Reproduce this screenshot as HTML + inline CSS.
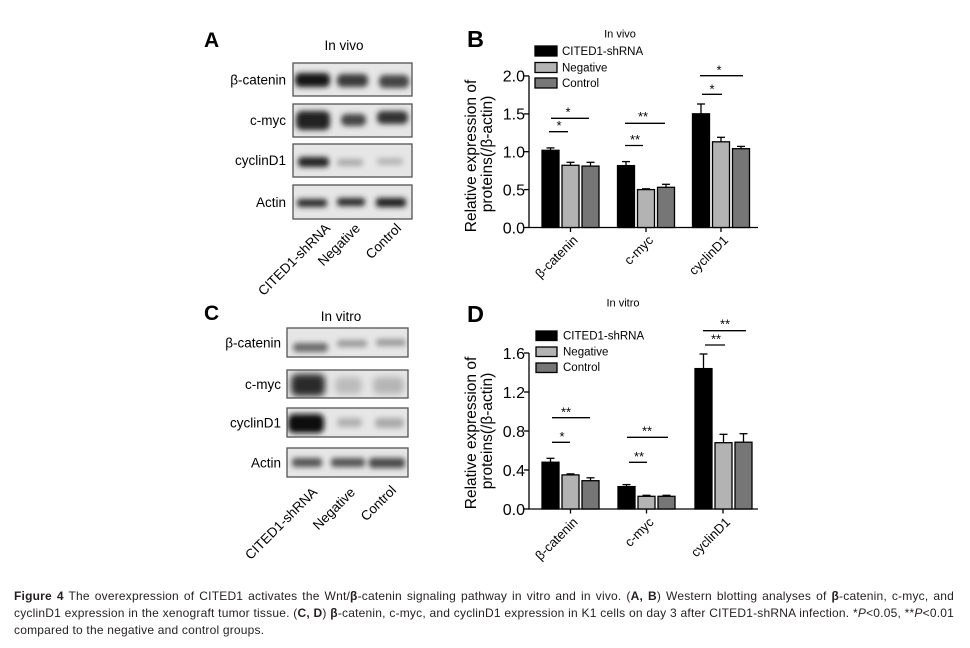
<!DOCTYPE html>
<html><head><meta charset="utf-8">
<style>
html,body{margin:0;padding:0;background:#fff;}
body{width:970px;height:648px;position:relative;overflow:hidden;font-family:"Liberation Sans",Arial,sans-serif;}
svg{position:absolute;left:0;top:0;}
.cap{position:absolute;left:14px;width:940px;font-size:12px;letter-spacing:0.2px;line-height:16.5px;height:16.5px;color:#231f20;text-align:justify;text-align-last:justify;white-space:nowrap;}
.cap.l3{text-align:left;text-align-last:left;}
</style></head><body>
<svg width="970" height="648" viewBox="0 0 970 648" xmlns="http://www.w3.org/2000/svg" font-family="Liberation Sans, Arial, sans-serif">
<defs>
<filter id="b" x="-50%" y="-150%" width="200%" height="400%"><feGaussianBlur stdDeviation="2.6"/></filter>
<filter id="b2" x="-50%" y="-150%" width="200%" height="400%"><feGaussianBlur stdDeviation="3.4"/></filter>
<clipPath id="ca1"><rect x="293" y="63" width="119" height="33"/></clipPath>
<clipPath id="ca2"><rect x="293" y="104" width="119" height="33"/></clipPath>
<clipPath id="ca3"><rect x="293" y="144" width="119" height="33"/></clipPath>
<clipPath id="ca4"><rect x="293" y="185" width="119" height="34"/></clipPath>
<clipPath id="cc1"><rect x="287" y="328" width="121" height="29"/></clipPath>
<clipPath id="cc2"><rect x="287" y="370" width="121" height="28"/></clipPath>
<clipPath id="cc3"><rect x="287" y="408" width="121" height="29"/></clipPath>
<clipPath id="cc4"><rect x="287" y="448" width="121" height="29"/></clipPath>
</defs>

<!-- Panel letters -->
<text x="204" y="47" font-size="21" font-weight="bold">A</text>
<text x="467" y="47" font-size="23.5" font-weight="bold">B</text>
<text x="204" y="320" font-size="21" font-weight="bold">C</text>
<text x="467" y="322" font-size="23.5" font-weight="bold">D</text>

<!-- ===== Panel A blots ===== -->
<text x="344" y="50" font-size="13.5" text-anchor="middle">In vivo</text>
<g font-size="13.5" text-anchor="end">
<text x="286" y="84.5">β-catenin</text>
<text x="286" y="125">c-myc</text>
<text x="286" y="165">cyclinD1</text>
<text x="286" y="207">Actin</text>
</g>
<g fill="#e6e6e6" stroke="#5a5a5a" stroke-width="1.2">
<rect x="293" y="63" width="119" height="33"/>
<rect x="293" y="104" width="119" height="33"/>
<rect x="293" y="144" width="119" height="33"/>
<rect x="293" y="185" width="119" height="34"/>
</g>
<g clip-path="url(#ca1)" filter="url(#b)">
<rect x="295" y="73" width="35" height="14" rx="5" fill="#141414"/>
<rect x="337" y="74" width="31" height="13" rx="5" fill="#3a3a3a"/>
<rect x="379" y="75" width="30" height="13" rx="5" fill="#444"/>
</g>
<g clip-path="url(#ca2)" filter="url(#b)">
<rect x="296" y="111" width="34" height="19" rx="6" fill="#222"/>
<rect x="341" y="114" width="25" height="12" rx="5" fill="#444"/>
<rect x="377" y="111" width="31" height="13" rx="5" fill="#333"/>
</g>
<g clip-path="url(#ca3)" filter="url(#b)">
<rect x="298" y="157" width="31" height="10" rx="4" fill="#222"/>
<rect x="337" y="159" width="26" height="7" rx="3" fill="#aaa"/>
<rect x="377" y="158" width="26" height="7" rx="3" fill="#b5b5b5"/>
</g>
<g clip-path="url(#ca4)" filter="url(#b)">
<rect x="297" y="199" width="30" height="8" rx="3" fill="#2a2a2a"/>
<rect x="337" y="198" width="28" height="8" rx="3" fill="#2a2a2a"/>
<rect x="376" y="198" width="30" height="9" rx="3" fill="#1a1a1a"/>
</g>
<g fill="none" stroke="#5a5a5a" stroke-width="1.2">
<rect x="293" y="63" width="119" height="33"/>
<rect x="293" y="104" width="119" height="33"/>
<rect x="293" y="144" width="119" height="33"/>
<rect x="293" y="185" width="119" height="34"/>
</g>
<g font-size="13.5" text-anchor="end">
<text transform="translate(331,229) rotate(-45)">CITED1-shRNA</text>
<text transform="translate(361,229) rotate(-45)">Negative</text>
<text transform="translate(402,229) rotate(-45)">Control</text>
</g>

<!-- ===== Panel C blots ===== -->
<text x="341" y="321" font-size="13.5" text-anchor="middle">In vitro</text>
<g font-size="13.5" text-anchor="end">
<text x="281" y="347.5">β-catenin</text>
<text x="281" y="389">c-myc</text>
<text x="281" y="427.5">cyclinD1</text>
<text x="281" y="467.5">Actin</text>
</g>
<g fill="#e6e6e6" stroke="#5a5a5a" stroke-width="1.2">
<rect x="287" y="328" width="121" height="29"/>
<rect x="287" y="370" width="121" height="28"/>
<rect x="287" y="408" width="121" height="29"/>
<rect x="287" y="448" width="121" height="29"/>
</g>
<g clip-path="url(#cc1)" filter="url(#b)">
<rect x="293" y="343" width="35" height="9" rx="4" fill="#6a6a6a"/>
<rect x="337" y="340" width="30" height="7" rx="3" fill="#999"/>
<rect x="376" y="339" width="30" height="7" rx="3" fill="#9a9a9a"/>
</g>
<g clip-path="url(#cc2)" filter="url(#b2)">
<rect x="291" y="374" width="34" height="22" rx="6" fill="#2a2a2a"/>
<rect x="335" y="377" width="27" height="17" rx="6" fill="#bbb"/>
<rect x="373" y="377" width="31" height="17" rx="6" fill="#b5b5b5"/>
</g>
<g clip-path="url(#cc3)" filter="url(#b)">
<rect x="288" y="414" width="36" height="19" rx="6" fill="#0a0a0a"/>
<rect x="337" y="418" width="25" height="9" rx="4" fill="#b0b0b0"/>
<rect x="375" y="418" width="29" height="10" rx="4" fill="#aaa"/>
</g>
<g clip-path="url(#cc4)" filter="url(#b)">
<rect x="292" y="458" width="30" height="9" rx="3" fill="#555"/>
<rect x="331" y="458" width="34" height="9" rx="3" fill="#555"/>
<rect x="369" y="458" width="36" height="10" rx="3" fill="#4a4a4a"/>
</g>
<g fill="none" stroke="#5a5a5a" stroke-width="1.2">
<rect x="287" y="328" width="121" height="29"/>
<rect x="287" y="370" width="121" height="28"/>
<rect x="287" y="408" width="121" height="29"/>
<rect x="287" y="448" width="121" height="29"/>
</g>
<g font-size="13.5" text-anchor="end">
<text transform="translate(318,493) rotate(-45)">CITED1-shRNA</text>
<text transform="translate(356,493) rotate(-45)">Negative</text>
<text transform="translate(397,491) rotate(-45)">Control</text>
</g>

<!-- ===== Panel B chart ===== -->
<text x="620" y="37.3" font-size="11" text-anchor="middle">In vivo</text>
<g font-size="15.5" text-anchor="middle">
<text transform="translate(476,156) rotate(-90)">Relative expression of</text>
<text transform="translate(492,154) rotate(-90)">proteins(/β-actin)</text>
</g>
<g stroke="#000" stroke-width="1.3">
<line x1="529" y1="75.9" x2="529" y2="228"/>
<line x1="528.4" y1="227.5" x2="758" y2="227.5"/>
<line x1="524" y1="75.9" x2="529" y2="75.9"/>
<line x1="524" y1="113.9" x2="529" y2="113.9"/>
<line x1="524" y1="151.7" x2="529" y2="151.7"/>
<line x1="524" y1="189.6" x2="529" y2="189.6"/>
<line x1="524" y1="227.5" x2="529" y2="227.5"/>
<line x1="570.5" y1="227.5" x2="570.5" y2="232"/>
<line x1="646" y1="227.5" x2="646" y2="232"/>
<line x1="721" y1="227.5" x2="721" y2="232"/>
</g>
<g font-size="16" text-anchor="end">
<text x="525" y="81.7">2.0</text>
<text x="525" y="119.7">1.5</text>
<text x="525" y="157.5">1.0</text>
<text x="525" y="195.4">0.5</text>
<text x="525" y="233.3">0.0</text>
</g>
<g stroke="#000" stroke-width="1.3">
<line x1="550.5" y1="227.5" x2="550.5" y2="147.9"/><line x1="546.5" y1="147.9" x2="554.5" y2="147.9"/>
<line x1="570.5" y1="227.5" x2="570.5" y2="162.3"/><line x1="566.5" y1="162.3" x2="574.5" y2="162.3"/>
<line x1="590.5" y1="227.5" x2="590.5" y2="162.3"/><line x1="586.5" y1="162.3" x2="594.5" y2="162.3"/>
<line x1="626" y1="227.5" x2="626" y2="161.6"/><line x1="622" y1="161.6" x2="630" y2="161.6"/>
<line x1="646" y1="227.5" x2="646" y2="188.8"/><line x1="642" y1="188.8" x2="650" y2="188.8"/>
<line x1="666" y1="227.5" x2="666" y2="184.3"/><line x1="662" y1="184.3" x2="670" y2="184.3"/>
<line x1="701" y1="227.5" x2="701" y2="104"/><line x1="697" y1="104" x2="705" y2="104"/>
<line x1="721" y1="227.5" x2="721" y2="137.3"/><line x1="717" y1="137.3" x2="725" y2="137.3"/>
<line x1="741" y1="227.5" x2="741" y2="146.4"/><line x1="737" y1="146.4" x2="745" y2="146.4"/>
</g>
<g stroke="#000" stroke-width="1.3">
<rect x="542" y="150.3" width="17" height="77.2" fill="#000"/>
<rect x="562" y="165.3" width="17" height="62.2" fill="#b3b3b3"/>
<rect x="582" y="166.1" width="17" height="61.4" fill="#767676"/>
<rect x="617.5" y="165.6" width="17" height="61.9" fill="#000"/>
<rect x="637.5" y="189.6" width="17" height="37.9" fill="#b3b3b3"/>
<rect x="657.5" y="187.3" width="17" height="40.2" fill="#767676"/>
<rect x="692.5" y="113.8" width="17" height="113.7" fill="#000"/>
<rect x="712.5" y="141.8" width="17" height="85.7" fill="#b3b3b3"/>
<rect x="732.5" y="148.7" width="17" height="78.8" fill="#767676"/>
</g>
<g stroke="#000" stroke-width="1.3">
<line x1="549" y1="131.7" x2="568" y2="131.7"/>
<line x1="551" y1="118.3" x2="589" y2="118.3"/>
<line x1="625" y1="145.5" x2="643" y2="145.5"/>
<line x1="625" y1="123.3" x2="665" y2="123.3"/>
<line x1="702" y1="94.3" x2="722" y2="94.3"/>
<line x1="700" y1="75.7" x2="743" y2="75.7"/>
</g>
<g font-size="13" text-anchor="middle">
<text x="559" y="130.2">*</text>
<text x="568" y="116.3">*</text>
<text x="635" y="144">**</text>
<text x="643" y="121">**</text>
<text x="712" y="93.5">*</text>
<text x="719" y="74.5">*</text>
</g>
<g stroke="#000" stroke-width="1.3">
<rect x="535" y="46" width="22" height="10" fill="#000"/>
<rect x="535" y="62.5" width="22" height="10" fill="#b3b3b3"/>
<rect x="535" y="78" width="22" height="10" fill="#767676"/>
</g>
<g font-size="11.5">
<text x="562" y="55">CITED1-shRNA</text>
<text x="562" y="71.5">Negative</text>
<text x="562" y="87">Control</text>
</g>
<g font-size="13" text-anchor="end">
<text transform="translate(578.5,241) rotate(-45)">β-catenin</text>
<text transform="translate(654,241) rotate(-45)">c-myc</text>
<text transform="translate(729,241) rotate(-45)">cyclinD1</text>
</g>

<!-- ===== Panel D chart ===== -->
<text x="623" y="306.5" font-size="11" text-anchor="middle">In vitro</text>
<g font-size="15.5" text-anchor="middle">
<text transform="translate(476,433) rotate(-90)">Relative expression of</text>
<text transform="translate(492,431) rotate(-90)">proteins(/β-actin)</text>
</g>
<g stroke="#000" stroke-width="1.3">
<line x1="529" y1="353" x2="529" y2="509.5"/>
<line x1="528.4" y1="509" x2="758" y2="509"/>
<line x1="524" y1="353" x2="529" y2="353"/>
<line x1="524" y1="392" x2="529" y2="392"/>
<line x1="524" y1="431" x2="529" y2="431"/>
<line x1="524" y1="470" x2="529" y2="470"/>
<line x1="524" y1="509" x2="529" y2="509"/>
<line x1="570.5" y1="509" x2="570.5" y2="513.5"/>
<line x1="646.5" y1="509" x2="646.5" y2="513.5"/>
<line x1="723" y1="509" x2="723" y2="513.5"/>
</g>
<g font-size="16" text-anchor="end">
<text x="525" y="358.8">1.6</text>
<text x="525" y="397.8">1.2</text>
<text x="525" y="436.8">0.8</text>
<text x="525" y="475.8">0.4</text>
<text x="525" y="514.8">0.0</text>
</g>
<g stroke="#000" stroke-width="1.3">
<line x1="550.5" y1="509" x2="550.5" y2="458.3"/><line x1="546.5" y1="458.3" x2="554.5" y2="458.3"/>
<line x1="570.5" y1="509" x2="570.5" y2="473.9"/><line x1="566.5" y1="473.9" x2="574.5" y2="473.9"/>
<line x1="590.5" y1="509" x2="590.5" y2="477.8"/><line x1="586.5" y1="477.8" x2="594.5" y2="477.8"/>
<line x1="626.5" y1="509" x2="626.5" y2="484.6"/><line x1="622.5" y1="484.6" x2="630.5" y2="484.6"/>
<line x1="646.5" y1="509" x2="646.5" y2="495.3"/><line x1="642.5" y1="495.3" x2="650.5" y2="495.3"/>
<line x1="666.5" y1="509" x2="666.5" y2="495.3"/><line x1="662.5" y1="495.3" x2="670.5" y2="495.3"/>
<line x1="703.5" y1="509" x2="703.5" y2="354"/><line x1="699.5" y1="354" x2="707.5" y2="354"/>
<line x1="723.5" y1="509" x2="723.5" y2="434.3"/><line x1="719.5" y1="434.3" x2="727.5" y2="434.3"/>
<line x1="743.5" y1="509" x2="743.5" y2="433.7"/><line x1="739.5" y1="433.7" x2="747.5" y2="433.7"/>
</g>
<g stroke="#000" stroke-width="1.3">
<rect x="542" y="462.2" width="17" height="46.8" fill="#000"/>
<rect x="562" y="474.9" width="17" height="34.1" fill="#b3b3b3"/>
<rect x="582" y="480.7" width="17" height="28.3" fill="#767676"/>
<rect x="618" y="486.6" width="17" height="22.4" fill="#000"/>
<rect x="638" y="496.3" width="17" height="12.7" fill="#b3b3b3"/>
<rect x="658" y="496.3" width="17" height="12.7" fill="#767676"/>
<rect x="695" y="368.6" width="17" height="140.4" fill="#000"/>
<rect x="715" y="442.7" width="17" height="66.3" fill="#b3b3b3"/>
<rect x="735" y="442.2" width="17" height="66.8" fill="#767676"/>
</g>
<g stroke="#000" stroke-width="1.3">
<line x1="552" y1="442.3" x2="570" y2="442.3"/>
<line x1="552" y1="417.7" x2="590" y2="417.7"/>
<line x1="629" y1="462.3" x2="647" y2="462.3"/>
<line x1="627" y1="437.3" x2="668" y2="437.3"/>
<line x1="705" y1="345" x2="725" y2="345"/>
<line x1="703" y1="330.7" x2="746" y2="330.7"/>
</g>
<g font-size="13" text-anchor="middle">
<text x="562" y="441">*</text>
<text x="566" y="416.5">**</text>
<text x="639" y="461">**</text>
<text x="647" y="435.5">**</text>
<text x="716" y="343.5">**</text>
<text x="725" y="328.5">**</text>
</g>
<g stroke="#000" stroke-width="1.3">
<rect x="536" y="331" width="21" height="9.5" fill="#000"/>
<rect x="536" y="347" width="21" height="9.5" fill="#b3b3b3"/>
<rect x="536" y="363" width="21" height="9.5" fill="#767676"/>
</g>
<g font-size="11.5">
<text x="563" y="339.5">CITED1-shRNA</text>
<text x="563" y="355.5">Negative</text>
<text x="563" y="371">Control</text>
</g>
<g font-size="13" text-anchor="end">
<text transform="translate(578.5,523) rotate(-45)">β-catenin</text>
<text transform="translate(654.5,523) rotate(-45)">c-myc</text>
<text transform="translate(731,523) rotate(-45)">cyclinD1</text>
</g>
</svg>

<div class="cap" style="top:588px;"><b>Figure 4</b> The overexpression of CITED1 activates the Wnt/<b>β</b>-catenin signaling pathway in vitro and in vivo. (<b>A, B</b>) Western blotting analyses of <b>β</b>-catenin, c-myc, and</div>
<div class="cap" style="top:605px;">cyclinD1 expression in the xenograft tumor tissue. (<b>C, D</b>) <b>β</b>-catenin, c-myc, and cyclinD1 expression in K1 cells on day 3 after CITED1-shRNA infection. *<i>P</i>&lt;0.05, **<i>P</i>&lt;0.01</div>
<div class="cap l3" style="top:621.5px;">compared to the negative and control groups.</div>
</body></html>
